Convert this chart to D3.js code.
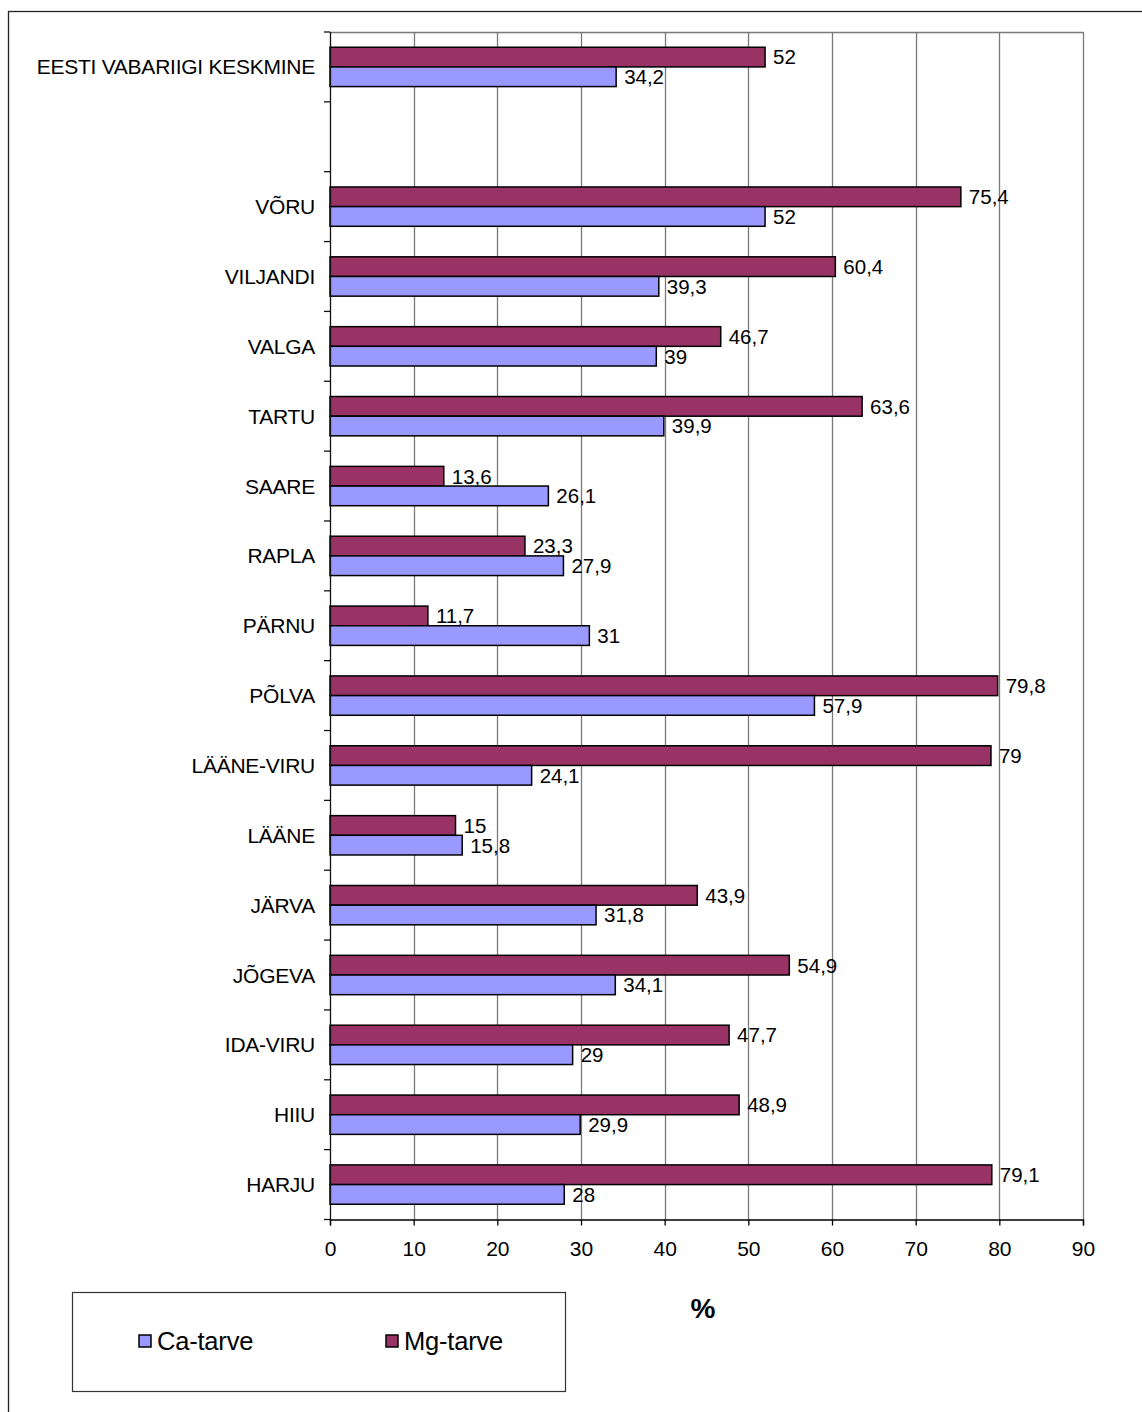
<!DOCTYPE html>
<html>
<head>
<meta charset="utf-8">
<script src="https://cdn.jsdelivr.net/npm/d3@7/dist/d3.min.js"></script>
<style>
  html, body { margin: 0; padding: 0; background: #fff; }
  svg { display: block; font-family: "Liberation Sans", Arial, sans-serif; }
</style>
</head>
<body>
<svg id="chart" width="1142" height="1412"></svg>
<script>
// Counties (top to bottom); the empty entry leaves a gap under the national average
const categories = [
  "EESTI VABARIIGI KESKMINE", "",
  "VÕRU", "VILJANDI", "VALGA", "TARTU", "SAARE", "RAPLA", "PÄRNU",
  "PÕLVA", "LÄÄNE-VIRU", "LÄÄNE", "JÄRVA", "JÕGEVA", "IDA-VIRU", "HIIU", "HARJU"
];
const mgValues = [52, null, 75.4, 60.4, 46.7, 63.6, 13.6, 23.3, 11.7, 79.8, 79, 15, 43.9, 54.9, 47.7, 48.9, 79.1];
const caValues = [34.2, null, 52, 39.3, 39, 39.9, 26.1, 27.9, 31, 57.9, 24.1, 15.8, 31.8, 34.1, 29, 29.9, 28];
const seriesNames = ["Ca-tarve", "Mg-tarve"];
const xTicks = [0, 10, 20, 30, 40, 50, 60, 70, 80, 90];
const axisTitle = "%";

const colors = { "Mg-tarve": "#993366", "Ca-tarve": "#9999FF" };
const fmt = v => String(v).replace(".", ",");

const svg = d3.select("#chart");
const plot = { left: 330, right: 1083, top: 32, bottom: 1219.5 };

// Outer frame (runs off the right and bottom edges)
svg.append("rect")
  .attr("x", 8.5).attr("y", 11.5)
  .attr("width", 1200).attr("height", 1500)
  .attr("fill", "none").attr("stroke", "#222").attr("stroke-width", 1.3);

const x = d3.scaleLinear().domain([0, 90]).range([plot.left, plot.right]);
const pad = 0.437;
const y = d3.scaleBand().domain(d3.range(categories.length))
  .range([plot.top, plot.bottom]).paddingInner(pad).paddingOuter(pad / 2);
const ySub = d3.scaleBand().domain(["Mg-tarve", "Ca-tarve"]).range([0, y.bandwidth()]);

// Vertical gridlines
svg.append("g").selectAll("line").data(xTicks.slice(1)).join("line")
  .attr("x1", d => Math.round(x(d)) + 0.5).attr("x2", d => Math.round(x(d)) + 0.5)
  .attr("y1", plot.top).attr("y2", plot.bottom)
  .attr("stroke", "#7a7a7a").attr("stroke-width", 1.3);

// Top border of the plot area
svg.append("line")
  .attr("x1", plot.left).attr("x2", x(90) + 0.5)
  .attr("y1", plot.top + 0.5).attr("y2", plot.top + 0.5)
  .attr("stroke", "#7a7a7a").attr("stroke-width", 1.3);

// Bars
const rows = categories.map((c, i) => ({ i, c, mg: mgValues[i], ca: caValues[i] }))
  .filter(r => r.mg !== null);

const barData = [];
rows.forEach(r => {
  barData.push({ i: r.i, s: "Mg-tarve", v: r.mg });
  barData.push({ i: r.i, s: "Ca-tarve", v: r.ca });
});

svg.append("g").selectAll("rect").data(barData).join("rect")
  .attr("x", x(0))
  .attr("y", d => y(d.i) + ySub(d.s))
  .attr("width", d => x(d.v) - x(0))
  .attr("height", ySub.bandwidth())
  .attr("fill", d => colors[d.s])
  .attr("stroke", "#000").attr("stroke-width", 1.5);

// Value labels
svg.append("g").selectAll("text").data(barData).join("text")
  .attr("x", d => x(d.v) + 8)
  .attr("y", d => y(d.i) + ySub(d.s) + ySub.bandwidth() / 2)
  .attr("dy", "0.36em")
  .attr("font-size", 20.5)
  .attr("fill", "#000")
  .text(d => fmt(d.v));

// Left axis line and ticks between categories
svg.append("line")
  .attr("x1", plot.left + 0.5).attr("x2", plot.left + 0.5)
  .attr("y1", plot.top).attr("y2", plot.bottom)
  .attr("stroke", "#111").attr("stroke-width", 1.3);
const step = y.step();
svg.append("g").selectAll("line").data(d3.range(categories.length + 1)).join("line")
  .attr("x1", plot.left - 6).attr("x2", plot.left)
  .attr("y1", d => plot.top + d * step).attr("y2", d => plot.top + d * step)
  .attr("stroke", "#111").attr("stroke-width", 1.3);

// Category labels
svg.append("g").selectAll("text").data(categories).join("text")
  .attr("x", plot.left - 15)
  .attr("y", (d, i) => plot.top + (i + 0.5) * step)
  .attr("dy", "0.36em")
  .attr("text-anchor", "end")
  .attr("font-size", 21)
  .attr("letter-spacing", -0.25)
  .text(d => d);

// Bottom axis
const xAxis = d3.axisBottom(x).tickValues(xTicks).tickSize(6).tickPadding(16);
const gx = svg.append("g").attr("transform", `translate(0,${plot.bottom})`).call(xAxis);
gx.select(".domain").attr("stroke", "#000").attr("stroke-width", 1.3);
gx.selectAll(".tick line").attr("stroke", "#000").attr("stroke-width", 1.3);
gx.selectAll(".tick text").attr("font-size", 21).attr("font-family", "Liberation Sans, Arial, sans-serif").attr("fill", "#000");

// Axis title
svg.append("text")
  .attr("x", 703).attr("y", 1318)
  .attr("text-anchor", "middle")
  .attr("font-size", 28).attr("font-weight", "bold")
  .text(axisTitle);

// Legend
const legend = svg.append("g");
legend.append("rect")
  .attr("x", 72.5).attr("y", 1292.5).attr("width", 493).attr("height", 99)
  .attr("fill", "#fff").attr("stroke", "#333").attr("stroke-width", 1.2);
const legendX = { "Ca-tarve": 139, "Mg-tarve": 386 };
seriesNames.forEach(s => {
  legend.append("rect")
    .attr("x", legendX[s]).attr("y", 1335).attr("width", 12).attr("height", 12)
    .attr("fill", colors[s]).attr("stroke", "#000").attr("stroke-width", 1.5);
  legend.append("text")
    .attr("x", legendX[s] + 18).attr("y", 1341)
    .attr("dy", "0.36em")
    .attr("font-size", 25.5)
    .attr("letter-spacing", -0.2)
    .text(s);
});
</script>
</body>
</html>
